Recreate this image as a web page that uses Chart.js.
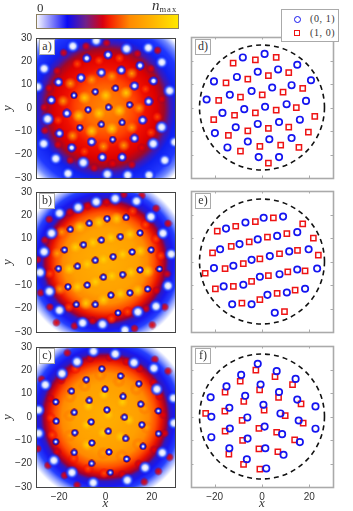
<!DOCTYPE html>
<html>
<head>
<meta charset="utf-8">
<title>Density and vortex positions</title>
<script src="https://cdn.jsdelivr.net/npm/chart.js@4"></script>
<style>
  html, body { margin: 0; background: #fff; }
  #page { position: relative; width: 353px; height: 511px; overflow: hidden; filter: blur(0.3px); }
  canvas { position: absolute; }
  .tag { position: absolute; width: 14px; height: 14px; background: #fff; border: 1px solid #aaa;
         font: 12px "Liberation Serif", serif; color: #333; text-align: center; line-height: 13px; z-index: 3; }
  .cb { position: absolute; font-family: "Liberation Serif", serif; color: #333; z-index: 3; }
  #legend { position: absolute; left: 281px; top: 9px; width: 56px; height: 31px; background: #fff;
            border: 1.5px solid #aaa; z-index: 4; }
  #legend span { position: absolute; left: 28px; font: 10px "Liberation Serif", serif; letter-spacing: .6px; color: #333; }
  #legend i { position: absolute; box-sizing: border-box; }
</style>
</head>
<body>
<div id="page"></div>
<script>
// positions, [x, y]
const circlesD = [[1.1,22.8],[-8.1,21.3],[14.9,18.2],[6.8,16.2],[-1.8,15.2],[-10.6,13.0],[-20.3,11.1],[20.7,11.6],[12.5,9.5],[4.3,8.5],[-4.4,7.0],[-13.6,5.4],[-23.4,3.4],[18.6,2.8],[10.4,1.4],[1.3,0.3],[-7.5,-0.7],[-16.7,-2.3],[16.0,-5.2],[7.2,-6.2],[-1.8,-7.0],[-11.1,-8.4],[-19.9,-10.9],[12.5,-13.0],[3.1,-13.5],[-6.0,-14.5],[-14.6,-17.0],[7.2,-21.1],[-1.4,-21.1]];
const squaresD = [[-12.2,18.9],[-2.8,20.3],[6.0,21.3],[11.3,14.8],[2.7,13.6],[-6.0,12.1],[-15.2,10.5],[17.2,8.1],[8.9,6.5],[0.1,5.4],[-9.1,4.4],[-18.3,3.0],[14.5,-0.1],[6.0,-1.1],[-2.8,-2.3],[-11.6,-3.3],[-20.4,-5.2],[22.3,-3.8],[11.3,-8.4],[2.7,-8.9],[-6.0,-9.9],[-14.2,-11.9],[19.6,-10.5],[7.9,-16.0],[-0.9,-16.5],[-9.1,-18.6],[15.6,-17.0],[2.7,-23.7]];
const circlesE = [[8.9,19.1],[0.7,18.6],[-7.0,16.6],[-15.2,14.0],[14.9,12.5],[6.4,10.9],[-1.8,9.4],[-9.5,7.4],[-17.7,5.2],[19.7,5.2],[11.5,4.3],[3.3,2.3],[-4.4,0.7],[-12.1,-1.8],[-20.3,-2.8],[23.3,-3.0],[14.9,-3.4],[7.4,-5.4],[-0.9,-6.5],[-7.9,-9.9],[-16.2,-10.6],[18.2,-11.6],[10.5,-13.2],[2.3,-14.2],[-4.4,-18.2],[-12.6,-18.2],[5.4,-21.8]];
const squaresE = [[4.8,18.6],[-2.8,17.0],[-11.1,15.0],[-18.9,12.9],[17.2,16.0],[21.7,9.9],[10.5,11.9],[2.3,10.4],[-5.4,8.4],[-13.0,6.4],[-20.9,3.7],[23.8,2.7],[15.0,4.7],[7.4,3.3],[-0.9,1.1],[-7.9,-0.9],[-15.6,-3.0],[-24.0,-5.0],[18.2,-4.0],[10.9,-4.4],[2.7,-6.0],[-4.4,-8.5],[-12.1,-10.6],[-19.7,-11.6],[14.0,-12.2],[6.4,-13.6],[-0.9,-16.2],[-8.5,-17.7],[9.5,-21.3]];
const circlesF = [[-1.8,22.4],[6.2,19.3],[-8.8,17.7],[14.2,16.0],[-15.0,12.8],[-0.6,13.6],[7.2,10.4],[-7.1,8.8],[-21.7,8.2],[14.9,7.2],[22.6,4.3],[0.6,5.0],[-13.8,3.7],[-21.4,-0.1],[-6.2,-0.4],[7.8,1.3],[15.5,-1.7],[22.6,-5.2],[1.1,-4.3],[-13.6,-5.1],[-21.4,-8.8],[8.5,-7.5],[-6.1,-9.4],[16.0,-10.9],[-13.8,-13.5],[1.4,-13.5],[9.1,-16.3],[-6.4,-18.2],[1.8,-22.1]];
const squaresF = [[-2.6,19.7],[5.5,17.0],[-9.2,15.0],[12.9,13.6],[-15.6,10.4],[-1.0,11.3],[7.0,8.1],[-7.7,6.4],[16.5,5.4],[-23.8,1.3],[-15.7,2.3],[0.9,2.7],[9.8,0.4],[-8.4,-1.6],[17.4,-2.8],[-15.6,-6.2],[-1.3,-5.1],[6.2,-6.7],[-8.2,-10.2],[13.8,-9.9],[-1.3,-13.8],[6.7,-15.0],[-14.0,-16.0],[-7.8,-20.4],[-0.9,-22.4]];

// density holes and peaks
const extraHolesA = [[-4.0,28.9],[-14.1,26.5],[9.1,25.4],[18.5,25.8],[-26.5,16.9],[24.3,19.6],[27.7,7.4],[-29.3,9.1],[-26.7,-15.3],[25.6,-22.4],[-21.5,-21.7],[-16.2,-28.1],[0.8,-28.4],[9.6,-28.8],[18.8,-28.8],[29.9,-14.6],[-25.0,-4.7],[20.6,-15.3],[24.2,-8.2],[-9.6,-23.4]];
const extraPeaksA = [[-8.4,26.5],[-18.1,23.7],[0.5,27.9],[13.8,23.3],[22.5,24.7],[19.6,16.9],[-20.9,15.9],[-24.3,8.5],[-26.5,0.3],[-26.2,-9.6],[-20.5,-15.7],[-15.2,-22.4],[-4.9,-25.7],[3.2,-23.8],[11.4,-24.3],[24.2,3.8]];
const extraHolesB = [[-4.0,25.8],[4.2,27.2],[13.4,26.1],[-11.8,23.4],[-19.9,20.9],[19.6,19.4],[-23.3,12.3],[24.8,12.3],[-26.5,4.4],[28.4,3.4],[-28.3,-4.5],[27.0,-10.2],[-24.2,-12.6],[-19.9,-20.7],[21.8,-19.0],[-9.9,-26.1],[-1.3,-26.7],[8.4,-29.2],[14.0,-21.4]];
const extraPeaksB = [[7.9,28.9],[0.5,25.7],[-7.7,24.0],[-15.4,21.4],[-24.3,18.3],[-26.2,9.4],[-29.3,1.0],[-28.0,-13.2],[-24.0,-19.3],[-15.8,-19.3],[-21.2,-26.0],[-13.4,-27.4],[-5.6,-25.2],[2.6,-24.3],[17.5,-20.0],[25.6,-19.3],[20.2,-27.0],[12.5,-28.5],[21.9,-12.2],[26.6,-5.1],[27.0,16.5],[11.7,21.8],[21.8,23.0],[15.7,28.5]];
const holesC = [[-1.6,20.7],[6.5,17.6],[-8.3,16.0],[14.4,14.3],[-14.7,11.1],[-0.2,11.9],[7.6,8.8],[-7.0,7.1],[-21.5,6.5],[15.2,5.5],[22.8,2.6],[0.6,3.1],[-13.5,2.0],[-21.3,-1.8],[-6.2,-2.1],[8.2,-0.1],[15.7,-3.3],[22.9,-7.1],[1.2,-6.1],[-13.3,-6.7],[-21.5,-10.6],[8.7,-9.2],[-5.9,-11.1],[16.2,-12.6],[-13.5,-15.2],[1.5,-15.0],[9.1,-18.0],[-6.0,-19.9],[2.1,-23.8],[-5.2,28.2],[4.2,27.0],[-12.3,23.7],[12.3,23.3],[20.9,20.9],[-18.8,18.6],[-26.0,13.8],[22.2,11.9],[29.4,8.1],[-29.0,3.0],[29.6,-2.6],[-28.9,-7.0],[24.5,-15.3],[-22.3,-18.6],[17.1,-21.7],[-14.5,-23.8],[9.4,-27.1],[-5.3,-28.2]];
const peaksC = [[-2.3,18.0],[5.8,15.3],[-8.9,13.3],[13.2,11.9],[-15.3,8.7],[-0.7,9.6],[7.3,6.4],[-7.4,4.7],[16.8,3.7],[-23.5,-0.4],[-15.4,0.6],[1.2,1.0],[10.1,-1.3],[-8.1,-3.3],[17.7,-4.5],[-15.3,-7.9],[-1.0,-6.8],[6.5,-8.4],[-7.9,-11.9],[14.1,-11.6],[-1.0,-15.5],[7.0,-16.7],[-13.7,-17.7],[-7.5,-22.1],[-0.6,-24.1],[-16.5,27.5],[-6.6,25.0],[1.8,25.4],[9.0,23.7],[14.7,20.7],[21.3,24.7],[-13.0,20.7],[-19.1,15.7],[-27.6,16.2],[20.6,14.8],[27.0,19.7],[23.2,8.8],[-23.6,7.9],[24.8,0.9],[-23.0,-7.7],[25.6,-7.0],[-20.9,-14.9],[20.9,-14.0],[-29.3,-13.6],[27.7,-17.2],[14.3,-20.0],[-24.8,-20.7],[-17.7,-25.0],[7.2,-24.5],[22.8,-23.3],[16.7,-27.8],[-12.3,-29.2]];

const xTickValues = [-20, 0, 20];
const yTickValues = [-30, -20, -10, 0, 10, 20, 30];
const circleRadius = 26.4;

const colorbarStops = [0, 0.22, 0.35, 0.47, 0.52, 0.66, 0.82, 1];
const colorbarColors = ['#ffffff', '#0a0af5', '#70208a', '#d80010', '#f52000', '#ff8a00', '#ffb400', '#ffe800'];

// [radius in data units, colour] of the smooth envelope under each map
const envelopeA = [[0,'#ff8800'],[8,'#ff6c00'],[13,'#ff4000'],[17,'#f01000'],[22,'#dc0000'],[25,'#a00828'],[27.5,'#4018b0'],[30,'#1020f0'],[35,'#2038ff'],[38,'#7088ff'],[41,'#ffffff']];
const envelopeB = [[0,'#ffb000'],[14,'#ffa000'],[18,'#ff8a00'],[21,'#ff5000'],[23.5,'#e81000'],[25.5,'#a00030'],[27,'#3018c0'],[29,'#1818f0'],[31.5,'#2540ff'],[33.5,'#8fa0ff'],[36,'#ffffff']];
const envelopeC = [[0,'#ffb000'],[14,'#ffa000'],[18.5,'#ff8a00'],[21.5,'#ff5000'],[24,'#e81000'],[26,'#a00030'],[27.5,'#3018c0'],[29.5,'#1818f0'],[32,'#2540ff'],[34,'#8fa0ff'],[36.5,'#ffffff']];

const TICK = '#333';
const SANS = '"Liberation Sans", sans-serif';
const SERIF = '"Liberation Serif", serif';
const UNIT = 141 / 60; // px per data unit

const page = document.getElementById('page');
const sprites = {};

function sprite(key, radius, stops) {
  if (sprites[key]) return sprites[key];
  const c = document.createElement('canvas');
  c.width = c.height = Math.ceil(radius * 2);
  const g = c.getContext('2d');
  const grad = g.createRadialGradient(radius, radius, 0, radius, radius, radius);
  stops.forEach(s => grad.addColorStop(s[0], s[1]));
  g.fillStyle = grad;
  g.fillRect(0, 0, c.width, c.height);
  sprites[key] = c;
  return c;
}

const holeStyles = {
  inner: [4, [[0,'#ffffff'],[0.2,'#e8eeff'],[0.45,'#1a2cff'],[0.7,'#200a90'],[0.85,'rgba(110,0,60,0.8)'],[1,'rgba(200,0,0,0)']]],
  mid: [5, [[0,'#ffffff'],[0.3,'#e8eeff'],[0.55,'#2038ff'],[0.85,'rgba(20,20,210,0.7)'],[1,'rgba(60,10,160,0)']]],
  outer: [7, [[0,'#ffffff'],[0.35,'#dde4ff'],[0.65,'#3050ff'],[1,'rgba(10,20,255,0)']]]
};
const peakStyles = {
  yellow: [7, [[0,'rgba(255,215,0,0.95)'],[0.5,'rgba(255,190,0,0.6)'],[1,'rgba(255,160,0,0)']]],
  orange: [6.5, [[0,'rgba(255,165,0,0.95)'],[0.5,'rgba(255,130,0,0.6)'],[1,'rgba(255,90,0,0)']]],
  hot: [5.5, [[0,'rgba(255,80,0,0.95)'],[0.6,'rgba(250,30,0,0.7)'],[1,'rgba(230,0,0,0)']]],
  red: [4.5, [[0,'rgba(235,0,0,0.95)'],[0.6,'rgba(200,0,20,0.7)'],[1,'rgba(140,0,60,0)']]]
};

function holeSprite(ctx, midFrom, outerFrom) {
  if (!ctx.raw) return 'circle';
  const r = Math.hypot(ctx.raw.x, ctx.raw.y);
  const name = r >= outerFrom ? 'outer' : r >= midFrom ? 'mid' : 'inner';
  return sprite('h' + name, holeStyles[name][0], holeStyles[name][1]);
}

function peakSprite(ctx, bands) {
  if (!ctx.raw) return 'circle';
  const r = Math.hypot(ctx.raw.x, ctx.raw.y);
  const name = r < bands[0] ? 'yellow' : r < bands[1] ? 'orange' : r < bands[2] ? 'hot' : 'red';
  return sprite('p' + name, peakStyles[name][0], peakStyles[name][1]);
}

function envelopeSprite(key, stops) {
  const outer = stops[stops.length - 1][0];
  return sprite(key, outer * UNIT, stops.map(s => [s[0] / outer, s[1]]));
}

const toPoints = list => list.map(p => ({ x: p[0], y: p[1] }));

const framePlugin = {
  id: 'frame',
  afterDraw(chart, args, opts) {
    const a = chart.chartArea, c = chart.ctx;
    c.save();
    c.strokeStyle = opts.color;
    c.lineWidth = opts.width;
    c.strokeRect(a.left + 0.5, a.top + 0.5, a.right - a.left, a.bottom - a.top);
    if (opts.ticks) {
      // short inward ticks on every side
      c.lineWidth = 1;
      c.beginPath();
      chart.scales.x.ticks.forEach(t => {
        const px = Math.round(chart.scales.x.getPixelForValue(t.value)) + 0.5;
        c.moveTo(px, a.top); c.lineTo(px, a.top + 2.5);
        c.moveTo(px, a.bottom); c.lineTo(px, a.bottom - 2.5);
      });
      yTickValues.slice(1, -1).forEach(v => {
        const py = Math.round(chart.scales.y.getPixelForValue(v)) + 0.5;
        c.moveTo(a.left, py); c.lineTo(a.left + 2.5, py);
        c.moveTo(a.right, py); c.lineTo(a.right - 2.5, py);
      });
      c.stroke();
    }
    c.restore();
  }
};

const circlePlugin = {
  id: 'dashedCircle',
  afterDatasetsDraw(chart, args, opts) {
    if (!opts.radius) return;
    const sx = chart.scales.x, sy = chart.scales.y, c = chart.ctx;
    c.save();
    c.strokeStyle = '#111';
    c.lineWidth = 1.6;
    c.setLineDash([5, 4]);
    c.beginPath();
    c.arc(sx.getPixelForValue(0), sy.getPixelForValue(0), Math.abs(sx.getPixelForValue(opts.radius) - sx.getPixelForValue(0)), 0, Math.PI * 2);
    c.stroke();
    c.restore();
  }
};

function makeCanvas(left, top, width, height) {
  const cv = document.createElement('canvas');
  cv.width = width;
  cv.height = height;
  cv.style.left = left + 'px';
  cv.style.top = top + 'px';
  page.appendChild(cv);
  return cv;
}

function scalesFor(showY, showX) {
  return {
    x: {
      type: 'linear', min: -30, max: 30,
      grid: { display: false, drawTicks: false }, border: { display: false },
      afterBuildTicks(s) { s.ticks = xTickValues.map(v => ({ value: v })); },
      afterFit(s) { s.height = 24; },
      ticks: { display: showX, padding: 4, color: TICK, font: { family: SANS, size: 10 }, maxRotation: 0, autoSkip: false,
               callback: v => String(v).replace('-', '\u2212') },
      title: { display: showX, text: 'x', padding: 0, color: TICK, font: { family: SERIF, style: 'italic', size: 13 } }
    },
    y: {
      type: 'linear', min: -30, max: 30,
      grid: { display: false, drawTicks: false }, border: { display: false },
      afterBuildTicks(s) { s.ticks = yTickValues.map(v => ({ value: v })); },
      afterFit(s) { s.width = showY ? 36 : 8; },
      ticks: { display: showY, padding: 4, color: TICK, font: { family: SANS, size: 10 }, autoSkip: false,
               callback: v => String(v).replace('-', '\u2212') },
      title: { display: showY, text: 'y', padding: 0, color: TICK, font: { family: SERIF, style: 'italic', size: 13 } }
    }
  };
}

function mapPanel(top, envKey, envelope, holes, peaks, bands, midFrom, outerFrom, showX) {
  const cv = makeCanvas(0, top - 9, 180, 141 + 9 + 24);
  new Chart(cv, {
    type: 'scatter',
    data: {
      // first dataset is drawn on top, so the envelope comes last
      datasets: [
        { data: toPoints(holes), clip: 0, pointStyle: ctx => holeSprite(ctx, midFrom, outerFrom) },
        { data: toPoints(peaks), clip: 0, pointStyle: ctx => peakSprite(ctx, bands) },
        { data: [{ x: 0, y: 0 }], clip: 0, pointStyle: () => envelopeSprite(envKey, envelope) }
      ]
    },
    options: {
      responsive: false, animation: false, events: [],
      layout: { padding: { left: 0, right: 3, top: 9, bottom: 0 } },
      scales: scalesFor(true, showX),
      plugins: {
        legend: { display: false }, tooltip: { enabled: false },
        frame: { color: '#444', width: 1, ticks: false },
        dashedCircle: { radius: 0 }
      }
    },
    plugins: [framePlugin, circlePlugin]
  });
}

function markerPanel(top, circles, squares, showX) {
  const cv = makeCanvas(183, top - 9, 170, 141 + 9 + 24);
  new Chart(cv, {
    type: 'scatter',
    data: {
      datasets: [
        { label: '(0,1)', data: toPoints(circles), pointStyle: 'circle', pointRadius: 3.2, borderColor: '#1414f0', borderWidth: 1.7, backgroundColor: 'transparent' },
        { label: '(1,0)', data: toPoints(squares), pointStyle: 'rect', pointRadius: 3.7, borderColor: '#ee1414', borderWidth: 1.5, backgroundColor: 'transparent' }
      ]
    },
    options: {
      responsive: false, animation: false, events: [],
      layout: { padding: { left: 0, right: 20, top: 9, bottom: 0 } },
      scales: scalesFor(false, showX),
      plugins: {
        legend: { display: false }, tooltip: { enabled: false },
        frame: { color: '#aaa', width: 1.6, ticks: true },
        dashedCircle: { radius: circleRadius }
      }
    },
    plugins: [framePlugin, circlePlugin]
  });
}

function addTag(left, top, text) {
  const d = document.createElement('div');
  d.className = 'tag';
  d.style.left = left + 'px';
  d.style.top = top + 'px';
  d.textContent = text;
  page.appendChild(d);
}

mapPanel(37, 'envA', envelopeA, circlesD.concat(extraHolesA), squaresD.concat(extraPeaksA), [13, 19, 23], 15, 24, false);
mapPanel(191, 'envB', envelopeB, circlesE.concat(extraHolesB), squaresE.concat(extraPeaksB), [21, 23, 25], 24, 24, false);
mapPanel(346, 'envC', envelopeC, holesC, peaksC, [15, 22, 24.5], 24, 24, true);
markerPanel(37, circlesD, squaresD, false);
markerPanel(191, circlesE, squaresE, false);
markerPanel(346, circlesF, squaresF, true);

// colour bar
new Chart(makeCanvas(36, 14, 143, 15), {
  type: 'bar',
  data: {
    labels: ['n'],
    datasets: [{
      data: [1], barPercentage: 1, categoryPercentage: 1,
      backgroundColor(ctx) {
        const a = ctx.chart.chartArea;
        if (!a) return colorbarColors[0];
        const g = ctx.chart.ctx.createLinearGradient(a.left, 0, a.right, 0);
        colorbarStops.forEach((s, i) => g.addColorStop(s, colorbarColors[i]));
        return g;
      }
    }]
  },
  options: {
    indexAxis: 'y', responsive: false, animation: false, events: [],
    layout: { padding: { left: 0, right: 1, top: 0, bottom: 1 } },
    scales: { x: { display: false, min: 0, max: 1 }, y: { display: false } },
    plugins: { legend: { display: false }, tooltip: { enabled: false }, frame: { color: '#8c8060', width: 1, ticks: false } }
  },
  plugins: [framePlugin]
});

addTag(39, 39, 'a)'); addTag(39, 193, 'b)'); addTag(39, 348, 'c)');
addTag(195, 39, 'd)'); addTag(195, 193, 'e)'); addTag(195, 348, 'f)');

page.insertAdjacentHTML('beforeend',
  '<div class="cb" style="left:37px;top:0;font-size:13px">0</div>' +
  '<div class="cb" style="left:152px;top:-3px;font-size:15px;white-space:nowrap"><i>n</i><span style="font-size:8.5px;letter-spacing:1px;position:relative;top:2px">max</span></div>' +
  '<div id="legend">' +
  '<i style="left:12px;top:6px;width:7px;height:7px;border:1.7px solid #1414f0;border-radius:50%"></i><span style="top:3px">(0, 1)</span>' +
  '<i style="left:12px;top:20px;width:6px;height:6px;border:1.5px solid #ee1414"></i><span style="top:17px">(1, 0)</span>' +
  '</div>');
</script>
</body>
</html>
